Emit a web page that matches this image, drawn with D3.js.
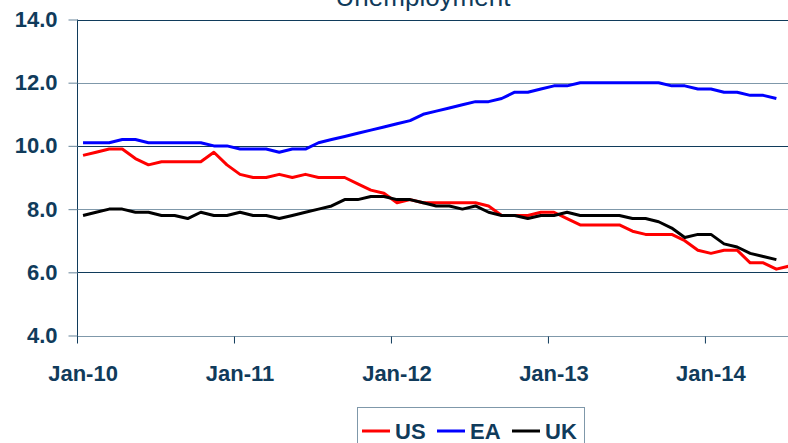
<!DOCTYPE html>
<html>
<head>
<meta charset="utf-8">
<script src="https://cdn.jsdelivr.net/npm/d3@7"></script>
<style>
  body { margin: 0; background: #fff; overflow: hidden; }
  text { font-family: Arial, "Liberation Sans", sans-serif; }
</style>
</head>
<body>
<div id="chart"></div>
<script>
let width = 788
let height = 443
let navy = '#103b5b'

// monthly unemployment rate, Jan-10 onwards
let us = [9.7, 9.8, 9.9, 9.9, 9.6, 9.4, 9.5, 9.5, 9.5, 9.5, 9.8, 9.4,
          9.1, 9.0, 9.0, 9.1, 9.0, 9.1, 9.0, 9.0, 9.0, 8.8, 8.6, 8.5,
          8.2, 8.3, 8.2, 8.2, 8.2, 8.2, 8.2, 8.1, 7.8, 7.8, 7.8, 7.9,
          7.9, 7.7, 7.5, 7.5, 7.5, 7.5, 7.3, 7.2, 7.2, 7.2, 7.0, 6.7,
          6.6, 6.7, 6.7, 6.3, 6.3, 6.1, 6.2]
let ea = [10.1, 10.1, 10.1, 10.2, 10.2, 10.1, 10.1, 10.1, 10.1, 10.1, 10.0, 10.0,
          9.9, 9.9, 9.9, 9.8, 9.9, 9.9, 10.1, 10.2, 10.3, 10.4, 10.5, 10.6,
          10.7, 10.8, 11.0, 11.1, 11.2, 11.3, 11.4, 11.4, 11.5, 11.7, 11.7, 11.8,
          11.9, 11.9, 12.0, 12.0, 12.0, 12.0, 12.0, 12.0, 12.0, 11.9, 11.9, 11.8,
          11.8, 11.7, 11.7, 11.6, 11.6, 11.5]
let uk = [7.8, 7.9, 8.0, 8.0, 7.9, 7.9, 7.8, 7.8, 7.7, 7.9, 7.8, 7.8,
          7.9, 7.8, 7.8, 7.7, 7.8, 7.9, 8.0, 8.1, 8.3, 8.3, 8.4, 8.4,
          8.3, 8.3, 8.2, 8.1, 8.1, 8.0, 8.1, 7.9, 7.8, 7.8, 7.7, 7.8,
          7.8, 7.9, 7.8, 7.8, 7.8, 7.8, 7.7, 7.7, 7.6, 7.4, 7.1, 7.2,
          7.2, 6.9, 6.8, 6.6, 6.5, 6.4]

let seriesNames = ['US', 'EA', 'UK']
let seriesColors = ['#ff0000', '#0000ff', '#000000']
let xTickLabels = ['Jan-10', 'Jan-11', 'Jan-12', 'Jan-13', 'Jan-14']
let xTickMonths = [0, 12, 24, 36, 48]
let yTicks = [4, 6, 8, 10, 12, 14]

let svg = d3.select('#chart').append('svg')
  .attr('width', width)
  .attr('height', height)

// month index -> x (points sit in the middle of each month)
let x = d3.scaleLinear().domain([0, 55]).range([76.5, 796])
let y = d3.scaleLinear().domain([4, 14]).range([335.5, 19.5])

// title (cut off at the top, as in the source)
svg.append('text')
  .attr('x', 423).attr('y', 6)
  .attr('text-anchor', 'middle')
  .style('font-size', '26px')
  .style('fill', navy)
  .text('Unemployment')

// gridlines
svg.append('g').selectAll('line')
  .data(yTicks)
  .enter().append('line')
  .attr('x1', 77).attr('x2', width)
  .attr('y1', d => Math.round(y(d)) + 0.5)
  .attr('y2', d => Math.round(y(d)) + 0.5)
  .attr('stroke', (d, i) => i % 2 == 0 ? '#7f98aa' : navy)
  .attr('stroke-width', 1.2)

// y axis
let yAxis = d3.axisLeft(y).tickValues(yTicks).tickSize(9).tickPadding(11)
  .tickFormat(d3.format('.1f'))
svg.append('g')
  .attr('transform', 'translate(77.5, 0)')
  .call(yAxis)
  .call(g => g.select('.domain').attr('stroke', navy).attr('d', 'M0,' + y(14) + 'V343'))
  .call(g => g.selectAll('.tick line').attr('stroke', '#7f98aa').attr('stroke-width', 1.2))
  .call(g => g.selectAll('.tick text')
    .style('font-size', '22px').style('font-weight', 'bold')
    .style('font-family', 'Arial, "Liberation Sans", sans-serif')
    .attr('fill', navy))

// x axis: ticks at year boundaries, labels centred on January
let xAxis = d3.axisBottom(x).tickValues(xTickMonths).tickSize(7).tickFormat('')
svg.append('g')
  .attr('transform', 'translate(0.5,' + (Math.round(y(4)) + 0.5) + ')')
  .call(xAxis)
  .call(g => g.select('.domain').remove())
  .call(g => g.selectAll('.tick line').attr('stroke', navy))

svg.append('g').selectAll('text')
  .data(xTickLabels)
  .enter().append('text')
  .attr('x', (d, i) => x(xTickMonths[i] + 0.5))
  .attr('y', 381)
  .attr('text-anchor', 'middle')
  .style('font-size', '22px')
  .style('font-weight', 'bold')
  .style('fill', navy)
  .text(d => d)

// lines
let line = d3.line()
  .x((d, i) => x(i + 0.5))
  .y(d => y(d))

let allSeries = [us, ea, uk]
svg.append('g').selectAll('path')
  .data(allSeries)
  .enter().append('path')
  .attr('d', d => line(d))
  .attr('fill', 'none')
  .attr('stroke', (d, i) => seriesColors[i])
  .attr('stroke-width', 3)
  .attr('stroke-linejoin', 'round')

// legend (cut off at the bottom)
let legend = svg.append('g')
legend.append('rect')
  .attr('x', 357.5).attr('y', 407.5)
  .attr('width', 227).attr('height', 60)
  .attr('fill', '#fff')
  .attr('stroke', '#7f98aa')

let legendX = [362, 437, 512]
seriesNames.forEach((name, i) => {
  legend.append('line')
    .attr('x1', legendX[i]).attr('x2', legendX[i] + 28)
    .attr('y1', 431).attr('y2', 431)
    .attr('stroke', seriesColors[i])
    .attr('stroke-width', 3)
  legend.append('text')
    .attr('x', legendX[i] + 33).attr('y', 439)
    .style('font-size', '22px')
    .style('font-weight', 'bold')
    .style('fill', navy)
    .text(name)
})
</script>
</body>
</html>
